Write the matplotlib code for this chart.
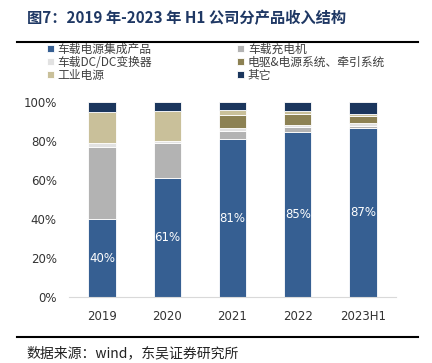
import matplotlib.pyplot as plt
import numpy as np

plt.rcParams['font.family'] = ['Noto Sans CJK SC', 'DejaVu Sans']

years = ['2019', '2020', '2021', '2022', '2023H1']
names = ['车载电源集成产品', '车载充电机', '车载DC/DC变换器',
         '电驱&电源系统、牵引系统', '工业电源', '其它']
# shares in percent
integrated = [40, 61, 81, 85, 87]
charger = [37, 18, 4.5, 2.5, 1.0]
dcdc = [2.0, 1.2, 1.5, 0.8, 1.2]
drive = [0, 0, 6.3, 5.8, 3.9]
industrial = [16, 15.4, 3.0, 1.4, 0.9]
other = [5.0, 4.4, 3.7, 4.5, 6.0]
labels = ['40%', '61%', '81%', '85%', '87%']

colors = ['#365F92', '#B3B3B3', '#E2E2E2', '#8C8153', '#C9C09A', '#1B365D']
series = [integrated, charger, dcdc, drive, industrial, other]

fig = plt.figure(figsize=(4.32, 3.63), dpi=100)
ax = fig.add_axes([0.1604, 0.181, 0.7556, 0.537])

x = np.arange(len(years))
bottom = np.zeros(len(years))
for vals, c, n in zip(series, colors, names):
    v = np.array(vals) / 100.0
    ax.bar(x, v, 0.42, bottom=bottom, color=c, label=n,
           edgecolor='white', linewidth=0.6)
    bottom += v

for i, lab in enumerate(labels):
    ax.text(x[i], integrated[i] / 200.0, lab, color='white', ha='center',
            va='center', fontsize=8.5, family='DejaVu Sans')

ax.set_xlim(-0.5, 4.5)
ax.set_ylim(0, 1.0)
ax.set_xticks(x)
ax.set_xticklabels(years, fontsize=8.5, color='#333333', family='DejaVu Sans')
ax.set_yticks(np.arange(0, 1.01, 0.2))
ax.set_yticklabels(['0%', '20%', '40%', '60%', '80%', '100%'], fontsize=8.5,
                   color='#333333', family='DejaVu Sans')
ax.tick_params(axis='y', length=0, pad=9)
ax.tick_params(axis='x', length=0, pad=9)
for s in ['top', 'right', 'left']:
    ax.spines[s].set_visible(False)
ax.spines['bottom'].set_color('#D9D9D9')

handles, lbls = ax.get_legend_handles_labels()
order = [0, 2, 4, 1, 3, 5]
fig.legend([handles[k] for k in order], [lbls[k] for k in order],
           ncol=2, loc='upper left', bbox_to_anchor=(0.098, 0.895),
           borderaxespad=0, frameon=False, fontsize=8.5, handlelength=0.6,
           handleheight=0.6, handletextpad=0.3, columnspacing=7.2,
           labelspacing=0.0, labelcolor='#404040')

fig.text(0.062, 0.95, '图7：2019 年-2023 年 H1 公司分产品收入结构',
         fontsize=11, fontweight='bold', color='#1F3864', va='center')
fig.add_artist(plt.Line2D([0.04, 0.968], [0.883, 0.883], color='black', lw=1.5))
fig.add_artist(plt.Line2D([0.04, 0.968], [0.072, 0.072], color='black', lw=1.5))
fig.text(0.062, 0.028, '数据来源：wind，东吴证券研究所', fontsize=10,
         color='#222222', va='center')

fig.savefig('out.png', dpi=100)
